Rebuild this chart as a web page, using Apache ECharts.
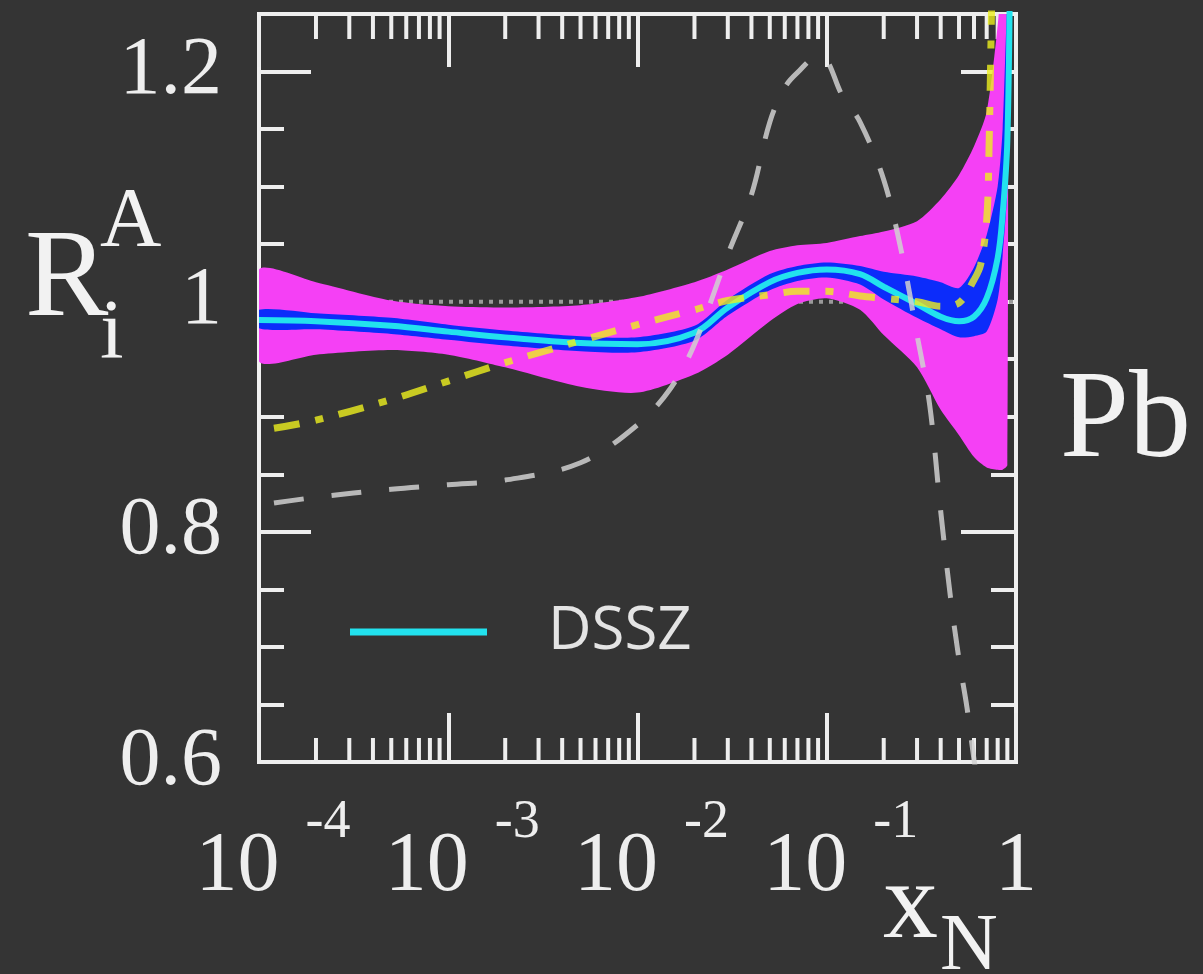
<!DOCTYPE html>
<html><head><meta charset="utf-8">
<script src="https://cdn.jsdelivr.net/npm/echarts@6/dist/echarts.min.js"></script>
<style>html,body{margin:0;padding:0;background:#343434;}#c{width:1203px;height:974px;}</style>
</head><body><div id="c"></div>
<script>
// ---- data ----
const bandX = [1e-4, 2e-4, 5e-4, 1e-3, 2e-3, 5e-3, 1e-2, 2e-2, 3e-2, 5e-2, 7e-2, 0.1, 0.15, 0.2, 0.3, 0.4, 0.5, 0.6, 0.7, 0.8, 0.85, 0.9];
const magentaUpper = [1.028, 1.017, 1.001, 0.996, 0.995, 0.997, 1.004, 1.017, 1.028, 1.044, 1.049, 1.051, 1.057, 1.061, 1.070, 1.089, 1.110, 1.135, 1.165, 1.240, 1.300, 1.420];
const magentaLower = [0.948, 0.954, 0.958, 0.954, 0.943, 0.926, 0.921, 0.937, 0.954, 0.983, 0.998, 1.003, 0.993, 0.971, 0.943, 0.906, 0.884, 0.865, 0.856, 0.854, 0.854, 0.858];
const blueUpper = [0.993, 0.990, 0.986, 0.980, 0.975, 0.970, 0.969, 0.979, 1.002, 1.024, 1.031, 1.034, 1.031, 1.026, 1.022, 1.017, 1.012, 1.030, 1.058, 1.100, 1.150, 1.260];
const blueLower = [0.977, 0.976, 0.972, 0.967, 0.962, 0.957, 0.956, 0.966, 0.988, 1.010, 1.018, 1.021, 1.015, 1.002, 0.986, 0.976, 0.969, 0.970, 0.974, 1.002, 1.040, 1.100];
const dsszX = [1e-4, 2e-4, 5e-4, 1e-3, 2e-3, 5e-3, 1e-2, 2e-2, 3e-2, 5e-2, 7e-2, 0.1, 0.15, 0.2, 0.3, 0.4, 0.5, 0.6, 0.7, 0.8, 0.85, 0.9, 0.93];
const dssz = [0.984, 0.983, 0.979, 0.974, 0.969, 0.964, 0.963, 0.973, 0.995, 1.017, 1.025, 1.028, 1.024, 1.013, 0.998, 0.987, 0.983, 0.987, 1.003, 1.038, 1.076, 1.140, 1.300];
const yellowX = [1.2e-4, 2e-4, 5e-4, 1e-3, 2e-3, 5e-3, 1e-2, 2e-2, 3e-2, 5e-2, 7e-2, 0.1, 0.15, 0.2, 0.3, 0.4, 0.5, 0.6, 0.65, 0.7, 0.72, 0.75];
const yellow = [0.890, 0.897, 0.915, 0.931, 0.947, 0.966, 0.980, 0.993, 1.001, 1.006, 1.009, 1.009, 1.005, 1.003, 1.000, 0.996, 0.999, 1.019, 1.032, 1.071, 1.132, 1.300];
const grayX = [1.2e-4, 2e-4, 5e-4, 1e-3, 2e-3, 5e-3, 1e-2, 1.5e-2, 2e-2, 3e-2, 4e-2, 5e-2, 6e-2, 7e-2, 9e-2, 0.1, 0.12, 0.15, 0.2, 0.25, 0.3, 0.35, 0.4, 0.45, 0.5, 0.55, 0.6, 0.63];
const gray = [0.825, 0.830, 0.837, 0.841, 0.845, 0.860, 0.893, 0.925, 0.963, 1.041, 1.093, 1.156, 1.186, 1.199, 1.213, 1.210, 1.180, 1.156, 1.106, 1.041, 0.971, 0.910, 0.818, 0.744, 0.689, 0.648, 0.602, 0.580];
const refValue = 1;
const xTickExponents = [-4, -3, -2, -1, 0];
const xMinorTicks = [2e-4,3e-4,4e-4,5e-4,6e-4,7e-4,8e-4,9e-4, 2e-3,3e-3,4e-3,5e-3,6e-3,7e-3,8e-3,9e-3, 2e-2,3e-2,4e-2,5e-2,6e-2,7e-2,8e-2,9e-2, 0.2,0.3,0.4,0.5,0.6,0.7,0.8,0.9];
const yTickValues = [0.6, 0.8, 1.0, 1.2];
const yTickLabels = ['0.6', '0.8', '1', '1.2'];
const legendLabel = 'DSSZ';

// ---- chart ----
const X_MIN = Math.pow(10, xTickExponents[0]), X_MAX = Math.pow(10, xTickExponents[xTickExponents.length - 1]);
const Y_MIN = 0.6, Y_MAX = 1.25;
const pair = (xs, ys) => xs.map((x, i) => [x, ys[i]]);
const WHITE = '#eeeeee';
const SERIF = 'Liberation Serif';

const yBase = {
  type: 'value', min: Y_MIN, max: Y_MAX, axisLine: {show: false}, splitLine: {show: false}
};
const yAxes = [
  Object.assign({}, yBase, {position: 'left', interval: 0.2,
    axisTick: {show: true, inside: true, length: 52, lineStyle: {color: WHITE, width: 4}},
    axisLabel: {margin: 37, fontFamily: SERIF, fontSize: 82, color: WHITE,
      formatter: v => { const i = yTickValues.findIndex(t => Math.abs(t - v) < 1e-6); return i < 0 ? '' : yTickLabels[i]; }}}),
  Object.assign({}, yBase, {position: 'left', interval: 0.05,
    axisTick: {show: true, inside: true, length: 25, lineStyle: {color: WHITE, width: 4}}, axisLabel: {show: false}}),
  Object.assign({}, yBase, {position: 'right', interval: 0.2,
    axisTick: {show: true, inside: true, length: 55, lineStyle: {color: WHITE, width: 4}}, axisLabel: {show: false}}),
  Object.assign({}, yBase, {position: 'right', interval: 0.05,
    axisTick: {show: true, inside: true, length: 25, lineStyle: {color: WHITE, width: 4}}, axisLabel: {show: false}})
];

const xAxes = [
  {type: 'log', logBase: 10, min: X_MIN, max: X_MAX, position: 'bottom',
    axisLine: {show: false}, splitLine: {show: false},
    axisTick: {show: true, inside: true, length: 49, lineStyle: {color: WHITE, width: 4}},
    axisLabel: {show: true, interval: 0, margin: 32, color: WHITE, showMinLabel: true, showMaxLabel: true, hideOverlap: false,
      formatter: v => { const e = Math.round(Math.log10(v)); return e === 0 ? '{c|1}' : '{b|10}{s|' + e + '}'; },
      rich: {
        b: {fontFamily: SERIF, fontSize: 84, lineHeight: 84, color: WHITE, padding: [64, 0, 0, 28]},
        s: {fontFamily: SERIF, fontSize: 54, lineHeight: 54, color: WHITE, verticalAlign: 'top', padding: [2, 0, 0, 26]},
        c: {fontFamily: SERIF, fontSize: 84, lineHeight: 84, color: WHITE, padding: [64, 0, 0, 0]}
      }}},
  {type: 'log', logBase: 10, min: X_MIN, max: X_MAX, position: 'top',
    axisLine: {show: false}, splitLine: {show: false},
    axisTick: {show: true, inside: true, length: 53, lineStyle: {color: WHITE, width: 4}},
    axisLabel: {show: false}}
];

const bandSeries = (name, xs, up, low, color) => ({
  type: 'custom', name: name, xAxisIndex: 0, yAxisIndex: 0, clip: true, silent: true, z: 2,
  data: [[xs[0], low[0]]], encode: {x: 0, y: 1},
  renderItem: (params, api) => {
    const top = xs.map((x, i) => api.coord([x, up[i]]));
    const bot = xs.map((x, i) => api.coord([x, low[i]])).reverse();
    return {type: 'polygon', shape: {points: top.concat(bot), smooth: 0.25}, style: {fill: color}};
  }
});

const lineBase = {type: 'line', symbol: 'none', smooth: 0.35, xAxisIndex: 0, yAxisIndex: 0, z: 3};
const series = [
  {type: 'custom', name: 'minorTicks', xAxisIndex: 0, yAxisIndex: 0, silent: true, z: 1, clip: false,
    data: xMinorTicks.map(v => [v, refValue]), encode: {x: 0, y: 1},
    renderItem: (params, api) => {
      const v = api.value(0);
      const b = api.coord([v, Y_MIN]);
      const t = api.coord([v, Y_MAX]);
      const children = [
        {type: 'line', shape: {x1: b[0], y1: b[1], x2: b[0], y2: b[1] - 24}, style: {stroke: WHITE, lineWidth: 4}},
        {type: 'line', shape: {x1: t[0], y1: t[1], x2: t[0], y2: t[1] + 25}, style: {stroke: WHITE, lineWidth: 4}}
      ];
      if (params.dataIndex === 0) {
        const r0 = api.coord([X_MIN, refValue]), r1 = api.coord([X_MAX, refValue]);
        children.push({type: 'line', shape: {x1: r0[0], y1: r0[1], x2: r1[0], y2: r1[1]},
          style: {stroke: '#9a9a9a', lineWidth: 4, lineDash: [4, 6]}});
      }
      return {type: 'group', children: children};
    }},
  bandSeries('magBand', bandX, magentaUpper, magentaLower, '#f540f5'),
  bandSeries('blueBand', bandX, blueUpper, blueLower, '#0c2cfa'),
  Object.assign({}, lineBase, {name: legendLabel, data: pair(dsszX, dssz), color: '#22e2ee',
    itemStyle: {color: '#22e2ee'}, lineStyle: {color: '#22e2ee', width: 6}}),
  Object.assign({}, lineBase, {name: 'yellow', data: pair(yellowX, yellow),
    lineStyle: {color: '#eef01e', width: 7, opacity: 0.8, type: [26, 16, 8, 16], cap: 'butt'}}),
  Object.assign({}, lineBase, {name: 'gray', data: pair(grayX, gray),
    lineStyle: {color: '#d0d0d0', width: 5, opacity: 0.85, type: [30, 28]}})
];

const txt = (t, x, y, size) => ({type: 'text', x: x, y: y, silent: true,
  style: {text: t, font: size + 'px "' + SERIF + '"', fill: '#f2f2f2', align: 'left', verticalAlign: 'middle'}});

const option = {
  backgroundColor: '#343434',
  animation: false,
  grid: {left: 259, right: 187, top: 14, bottom: 212, show: true, borderColor: '#f0f0f0', borderWidth: 4, backgroundColor: 'transparent'},
  xAxis: xAxes,
  yAxis: yAxes,
  legend: {data: [{name: legendLabel, icon: 'rect'}], left: 350, top: 602, padding: 0,
    itemWidth: 137, itemHeight: 7, itemGap: 0, selectedMode: false,
    textStyle: {fontFamily: 'Open Sans', fontSize: 60, color: '#e4e4e4', lineHeight: 60, padding: [0, 0, 0, 56]}},
  series: series,
  graphic: [
    txt('R', 25, 282, 125),
    txt('A', 100, 224, 85),
    txt('i', 100, 336, 85),
    txt('Pb', 1060, 423, 124),
    txt('x', 883, 908, 110),
    txt('N', 940, 948, 80)
  ]
};
const chart = echarts.init(document.getElementById('c'));
chart.setOption(option);
</script>
</body></html>
